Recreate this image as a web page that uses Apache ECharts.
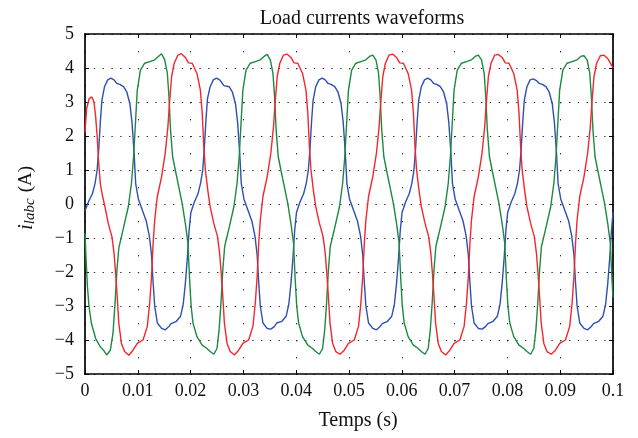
<!DOCTYPE html>
<html>
<head>
<meta charset="utf-8">
<script src="https://cdn.jsdelivr.net/npm/echarts@6/dist/echarts.min.js"></script>
<style>
html,body{margin:0;padding:0;background:#fff;}
#chart{width:638px;height:438px;}
</style>
</head>
<body>
<div id="chart"></div>
<script>
// time in milliseconds, current in amperes
const xTickLabels = ['0','0.01','0.02','0.03','0.04','0.05','0.06','0.07','0.08','0.09','0.1'];
const yTickLabels = ['\u22125','\u22124','\u22123','\u22122','\u22121','0','1','2','3','4','5'];

const phaseA = [ // blue
[0,-0.2],[0.7,0.08],[1.4,0.3],[1.9,0.6],[2.3,1.0],[2.6,1.6],[2.9,2.4],[3.2,3.05],[3.7,3.45],[4.3,3.65],[4.9,3.7],[5.5,3.65],[6.0,3.55],[6.3,3.5],[6.6,3.52],[7.3,3.45],[7.9,3.3],[8.5,2.95],[8.9,2.4],[9.3,1.5],[9.6,0.6],[10.1,0.15],[10.9,-0.2],[11.6,-0.5],[12.2,-0.95],[12.6,-1.5],[12.9,-2.3],[13.2,-3.0],[13.7,-3.5],[14.5,-3.66],[15.2,-3.7],[15.9,-3.6],[16.3,-3.52],[16.6,-3.55],[17.3,-3.45],[18.1,-3.3],[18.6,-2.95],[19.0,-2.35],[19.4,-1.55],[19.7,-0.8],
[20.05,-0.25],[20.7,0.05],[21.4,0.3],[21.9,0.62],[22.3,1.0],[22.6,1.65],[22.9,2.45],[23.2,3.1],[23.7,3.45],[24.3,3.65],[24.9,3.7],[25.5,3.65],[26.0,3.55],[26.3,3.48],[26.6,3.5],[27.3,3.45],[27.9,3.3],[28.5,2.95],[28.9,2.4],[29.3,1.5],[29.6,0.6],[30.1,0.15],[30.9,-0.2],[31.6,-0.5],[32.2,-0.95],[32.6,-1.5],[32.9,-2.3],[33.2,-3.0],[33.7,-3.5],[34.5,-3.66],[35.2,-3.68],[35.9,-3.6],[36.3,-3.5],[36.6,-3.53],[37.3,-3.45],[38.1,-3.3],[38.6,-2.95],[39.0,-2.35],[39.4,-1.55],[39.7,-0.8],
[40.05,-0.25],[40.7,0.05],[41.4,0.3],[41.9,0.6],[42.3,1.0],[42.6,1.6],[42.9,2.4],[43.2,3.05],[43.7,3.45],[44.3,3.65],[44.9,3.7],[45.5,3.65],[46.0,3.55],[46.3,3.5],[46.6,3.52],[47.3,3.45],[47.9,3.3],[48.5,2.95],[48.9,2.4],[49.3,1.5],[49.6,0.6],[50.1,0.15],[50.9,-0.2],[51.6,-0.5],[52.2,-0.95],[52.6,-1.5],[52.9,-2.3],[53.2,-3.0],[53.7,-3.5],[54.5,-3.66],[55.2,-3.7],[55.9,-3.6],[56.3,-3.52],[56.6,-3.55],[57.3,-3.45],[58.1,-3.3],[58.6,-2.95],[59.0,-2.35],[59.4,-1.55],[59.7,-0.8],
[60.05,-0.25],[60.7,0.05],[61.4,0.3],[61.9,0.6],[62.3,1.0],[62.6,1.6],[62.9,2.4],[63.2,3.05],[63.7,3.45],[64.3,3.65],[64.9,3.7],[65.5,3.65],[66.0,3.55],[66.3,3.5],[66.6,3.52],[67.3,3.45],[67.9,3.3],[68.5,2.95],[68.9,2.4],[69.3,1.5],[69.6,0.6],[70.1,0.15],[70.9,-0.2],[71.6,-0.5],[72.2,-0.95],[72.6,-1.5],[72.9,-2.3],[73.2,-3.0],[73.7,-3.5],[74.5,-3.66],[75.2,-3.68],[75.9,-3.6],[76.3,-3.52],[76.6,-3.55],[77.3,-3.45],[78.1,-3.3],[78.6,-2.95],[79.0,-2.35],[79.4,-1.55],[79.7,-0.8],
[80.05,-0.25],[80.7,0.05],[81.4,0.3],[81.9,0.6],[82.3,1.0],[82.6,1.6],[82.9,2.4],[83.2,3.05],[83.7,3.45],[84.3,3.65],[84.9,3.68],[85.5,3.63],[86.0,3.55],[86.3,3.5],[86.6,3.52],[87.3,3.45],[87.9,3.3],[88.5,2.95],[88.9,2.4],[89.3,1.5],[89.6,0.6],[90.1,0.15],[90.9,-0.2],[91.6,-0.5],[92.2,-0.95],[92.6,-1.5],[92.9,-2.3],[93.2,-3.0],[93.7,-3.5],[94.5,-3.66],[95.2,-3.7],[95.9,-3.6],[96.3,-3.52],[96.6,-3.55],[97.3,-3.45],[98.1,-3.3],[98.6,-2.95],[99.0,-2.35],[99.4,-1.55],[99.7,-0.8],[100,-0.25]
];

const phaseB = [ // green
[0,-0.85],[0.2,-1.6],[0.45,-2.4],[0.75,-3.0],[1.2,-3.5],[2.0,-3.95],[2.9,-4.2],[3.5,-4.3],[4.1,-4.44],[4.8,-4.3],[5.3,-3.8],[5.7,-2.9],[6.05,-1.94],[6.4,-1.3],[7.2,-0.76],[8.2,-0.08],[8.8,0.61],[9.2,1.39],[9.55,2.37],[9.9,3.35],[10.5,3.94],[11.3,4.14],[12.25,4.19],[13.2,4.24],[14.0,4.35],[14.5,4.42],[15.1,4.24],[15.6,3.84],[15.9,3.16],[16.2,2.18],[16.6,1.39],[17.1,1.0],[17.75,0.51],[18.4,0.02],[19.0,-0.57],[19.5,-1.16],[19.8,-2.2],
[20.1,-3.0],[20.45,-3.5],[21.2,-3.9],[22.2,-4.15],[23.1,-4.25],[23.7,-4.34],[24.4,-4.42],[25.0,-4.25],[25.4,-3.7],[25.75,-2.92],[26.1,-1.94],[26.45,-1.25],[27.2,-0.76],[28.2,-0.08],[28.8,0.61],[29.2,1.39],[29.55,2.37],[29.9,3.35],[30.5,3.94],[31.3,4.14],[32.25,4.19],[33.2,4.24],[34.0,4.35],[34.5,4.4],[35.1,4.24],[35.6,3.84],[35.9,3.16],[36.2,2.18],[36.6,1.39],[37.1,1.0],[37.75,0.51],[38.4,0.02],[39.0,-0.57],[39.5,-1.16],[39.8,-2.2],
[40.1,-3.0],[40.45,-3.5],[41.2,-3.9],[42.2,-4.15],[43.1,-4.25],[43.7,-4.34],[44.4,-4.42],[45.0,-4.25],[45.4,-3.7],[45.75,-2.92],[46.1,-1.94],[46.45,-1.25],[47.2,-0.76],[48.2,-0.08],[48.8,0.61],[49.2,1.39],[49.55,2.37],[49.9,3.35],[50.5,3.94],[51.3,4.14],[52.25,4.19],[53.2,4.24],[54.0,4.35],[54.5,4.38],[55.1,4.24],[55.6,3.84],[55.9,3.16],[56.2,2.18],[56.6,1.39],[57.1,1.0],[57.75,0.51],[58.4,0.02],[59.0,-0.57],[59.5,-1.16],[59.8,-2.2],
[60.1,-3.0],[60.45,-3.5],[61.2,-3.9],[62.2,-4.15],[63.1,-4.25],[63.7,-4.34],[64.4,-4.42],[65.0,-4.25],[65.4,-3.7],[65.75,-2.92],[66.1,-1.94],[66.45,-1.25],[67.2,-0.76],[68.2,-0.08],[68.8,0.61],[69.2,1.39],[69.55,2.37],[69.9,3.35],[70.5,3.94],[71.3,4.14],[72.25,4.19],[73.2,4.24],[74.0,4.35],[74.5,4.38],[75.1,4.24],[75.6,3.84],[75.9,3.16],[76.2,2.18],[76.6,1.39],[77.1,1.0],[77.75,0.51],[78.4,0.02],[79.0,-0.57],[79.5,-1.16],[79.8,-2.2],
[80.1,-3.0],[80.45,-3.5],[81.2,-3.9],[82.2,-4.15],[83.1,-4.25],[83.7,-4.34],[84.4,-4.42],[85.0,-4.25],[85.4,-3.7],[85.75,-2.92],[86.1,-1.94],[86.45,-1.25],[87.2,-0.76],[88.2,-0.08],[88.8,0.61],[89.2,1.39],[89.55,2.37],[89.9,3.35],[90.5,3.94],[91.3,4.14],[92.25,4.19],[93.2,4.24],[94.0,4.35],[94.5,4.36],[95.1,4.24],[95.6,3.84],[95.9,3.16],[96.2,2.18],[96.6,1.39],[97.1,1.0],[97.75,0.51],[98.4,0.02],[99.0,-0.57],[99.5,-1.16],[99.8,-2.2],[100,-2.75]
];

const phaseC = [ // red
[0,2.1],[0.3,2.8],[0.8,3.1],[1.3,3.15],[1.7,3.0],[2.0,2.6],[2.3,2.0],[2.6,1.2],[2.9,0.6],[3.3,0.25],[3.8,-0.1],[4.4,-0.57],[5.1,-0.96],[5.5,-1.45],[5.8,-2.04],[6.1,-2.73],[6.4,-3.5],[6.9,-4.1],[7.5,-4.34],[8.3,-4.45],[9.1,-4.3],[9.9,-4.1],[11.0,-4.0],[11.8,-3.6],[12.25,-2.92],[12.6,-2.14],[12.9,-1.16],[13.2,-0.47],[13.7,0.22],[14.5,0.8],[15.2,1.5],[15.7,2.27],[16.0,2.96],[16.4,3.75],[16.9,4.14],[17.6,4.38],[18.25,4.42],[19.0,4.31],[19.6,4.15],
[20.3,4.14],[21.2,3.84],[21.85,3.35],[22.2,2.67],[22.5,1.69],[22.8,1.0],[23.25,0.41],[23.7,-0.08],[24.4,-0.57],[25.1,-0.96],[25.5,-1.45],[25.8,-2.04],[26.1,-2.73],[26.4,-3.5],[26.9,-4.1],[27.5,-4.34],[28.3,-4.44],[29.1,-4.3],[29.9,-4.1],[31.0,-4.0],[31.8,-3.6],[32.25,-2.92],[32.6,-2.14],[32.9,-1.16],[33.2,-0.47],[33.7,0.22],[34.5,0.8],[35.2,1.5],[35.7,2.27],[36.0,2.96],[36.4,3.75],[36.9,4.14],[37.6,4.38],[38.25,4.41],[39.0,4.31],[39.6,4.15],
[40.3,4.14],[41.2,3.84],[41.85,3.35],[42.2,2.67],[42.5,1.69],[42.8,1.0],[43.25,0.41],[43.7,-0.08],[44.4,-0.57],[45.1,-0.96],[45.5,-1.45],[45.8,-2.04],[46.1,-2.73],[46.4,-3.5],[46.9,-4.1],[47.5,-4.34],[48.3,-4.42],[49.1,-4.3],[49.9,-4.1],[51.0,-4.0],[51.8,-3.6],[52.25,-2.92],[52.6,-2.14],[52.9,-1.16],[53.2,-0.47],[53.7,0.22],[54.5,0.8],[55.2,1.5],[55.7,2.27],[56.0,2.96],[56.4,3.75],[56.9,4.14],[57.6,4.38],[58.25,4.41],[59.0,4.31],[59.6,4.15],
[60.3,4.14],[61.2,3.84],[61.85,3.35],[62.2,2.67],[62.5,1.69],[62.8,1.0],[63.25,0.41],[63.7,-0.08],[64.4,-0.57],[65.1,-0.96],[65.5,-1.45],[65.8,-2.04],[66.1,-2.73],[66.4,-3.5],[66.9,-4.1],[67.5,-4.34],[68.3,-4.44],[69.1,-4.3],[69.9,-4.1],[71.0,-4.0],[71.8,-3.6],[72.25,-2.92],[72.6,-2.14],[72.9,-1.16],[73.2,-0.47],[73.7,0.22],[74.5,0.8],[75.2,1.5],[75.7,2.27],[76.0,2.96],[76.4,3.75],[76.9,4.14],[77.6,4.38],[78.25,4.4],[79.0,4.31],[79.6,4.15],
[80.3,4.14],[81.2,3.84],[81.85,3.35],[82.2,2.67],[82.5,1.69],[82.8,1.0],[83.25,0.41],[83.7,-0.08],[84.4,-0.57],[85.1,-0.96],[85.5,-1.45],[85.8,-2.04],[86.1,-2.73],[86.4,-3.5],[86.9,-4.1],[87.5,-4.34],[88.3,-4.42],[89.1,-4.3],[89.9,-4.1],[91.0,-4.0],[91.8,-3.6],[92.25,-2.92],[92.6,-2.14],[92.9,-1.16],[93.2,-0.47],[93.7,0.22],[94.5,0.8],[95.2,1.5],[95.7,2.27],[96.0,2.96],[96.4,3.75],[96.9,4.14],[97.6,4.36],[98.25,4.38],[99.0,4.28],[99.6,4.12],[100,4.0]
];

const FONT = "'Liberation Serif','DejaVu Serif',serif";
const chart = echarts.init(document.getElementById('chart'), null, {renderer:'canvas'});

const boxLine = {show:true, onZero:false, lineStyle:{color:'#000', width:1.7}};
const tickIn = {show:true, inside:true, length:4, lineStyle:{color:'#000', width:1}};

chart.setOption({
  animation:false,
  backgroundColor:'#fff',
  title:{
    text:'Load currents waveforms',
    left:357, top:4, textAlign:'center',
    textStyle:{fontFamily:FONT, fontSize:20, fontWeight:'normal', color:'#111'}
  },
  grid:{left:85, right:25, top:34, bottom:64, containLabel:false},
  xAxis:[{
    type:'value', min:0, max:100, interval:10,
    name:'Temps (s)', nameLocation:'middle', nameGap:37,
    nameTextStyle:{fontFamily:FONT, fontSize:20, color:'#111', padding:[0,0,0,18]},
    axisLine:boxLine, axisTick:tickIn,
    axisLabel:{margin:8, fontFamily:FONT, fontSize:18, color:'#111',
      formatter:function(v){return xTickLabels[Math.round(v/10)];}},
    splitLine:{show:true, lineStyle:{color:'#333', width:1, type:[1.4,15.6]}}
  },{
    type:'value', min:0, max:100, interval:10, position:'top',
    axisLine:boxLine, axisTick:tickIn, axisLabel:{show:false}, splitLine:{show:false}
  }],
  yAxis:[{
    type:'value', min:-5, max:5, interval:1,
    name:'{i|i}{sub|labc}{n|(A)}', nameLocation:'middle', nameGap:47, nameRotate:90,
    nameTextStyle:{fontFamily:FONT, color:'#111', padding:[0,0,0,12],
      rich:{
        i:{fontFamily:FONT, fontSize:21, fontStyle:'italic', color:'#111'},
        sub:{fontFamily:FONT, fontSize:15, fontStyle:'italic', color:'#111', verticalAlign:'bottom', padding:[8,0,0,0]},
        n:{fontFamily:FONT, fontSize:19, color:'#111', padding:[0,0,0,6]}
      }},
    axisLine:boxLine, axisTick:tickIn,
    axisLabel:{margin:11, fontFamily:FONT, fontSize:18, color:'#111',
      formatter:function(v){return yTickLabels[Math.round(v)+5];}},
    splitLine:{show:true, lineStyle:{color:'#333', width:1, type:[1.4,7.4]}}
  },{
    type:'value', min:-5, max:5, interval:1, position:'right',
    axisLine:boxLine, axisTick:tickIn, axisLabel:{show:false}, splitLine:{show:false}
  }],
  series:[
    {type:'line', data:phaseA, showSymbol:false, lineStyle:{color:'#2d4fb2', width:1.4}, itemStyle:{color:'#2d4fb2'}},
    {type:'line', data:phaseB, showSymbol:false, lineStyle:{color:'#1b8a3f', width:1.4}, itemStyle:{color:'#1b8a3f'}},
    {type:'line', data:phaseC, showSymbol:false, lineStyle:{color:'#f2262c', width:1.4}, itemStyle:{color:'#f2262c'}}
  ]
});
</script>
</body>
</html>
